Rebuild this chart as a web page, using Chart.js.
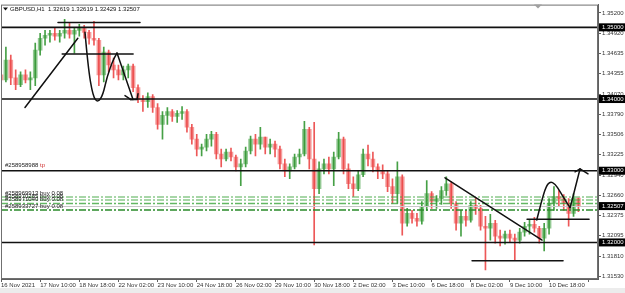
<!DOCTYPE html>
<html>
<head>
<meta charset="utf-8">
<script src="https://cdn.jsdelivr.net/npm/chart.js@4.4.0/dist/chart.umd.min.js"></script>
<style>
  html, body { margin: 0; padding: 0; background: #fff; }
  #wrap { width: 625px; height: 293px; }
</style>
</head>
<body>
<div id="wrap"><canvas id="chart" width="625" height="293"></canvas></div>
<script>
// GBPUSD, candles (4h steps)
const symbol = 'GBPUSD,H1';
const firstOpen = 1.34337;
const highs = [
  1.34406, 1.34723, 1.34613, 1.34406, 1.34378, 1.34406, 1.34378, 1.34779, 1.34917, 1.34958,
  1.34958, 1.34986, 1.34958, 1.35110, 1.35068, 1.34986, 1.35041, 1.35027, 1.34958, 1.35082,
  1.34848, 1.34723, 1.34682, 1.34572, 1.34475, 1.34461, 1.34489, 1.34489, 1.34199, 1.34047,
  1.34088, 1.34061, 1.33937, 1.33826, 1.33882, 1.33854, 1.33840, 1.33895, 1.33854, 1.33647,
  1.33509, 1.33371, 1.33509, 1.33551, 1.33537, 1.33302, 1.33302, 1.33316, 1.33220, 1.33164,
  1.33330, 1.33482, 1.33509, 1.33606, 1.33468, 1.33440, 1.33413, 1.33344, 1.33164, 1.33095,
  1.33233, 1.33302, 1.33689, 1.33606, 1.33675, 1.33123, 1.33164, 1.33192, 1.33261, 1.33537,
  1.33468, 1.33095, 1.32916, 1.32999, 1.33302, 1.33357, 1.33261, 1.33095, 1.33082, 1.32999,
  1.32888, 1.33123, 1.32944, 1.32474, 1.32447, 1.32405, 1.32571, 1.32861, 1.32709, 1.32654,
  1.32778, 1.32916, 1.32847, 1.32571, 1.32447, 1.32447, 1.32571, 1.32626, 1.32516, 1.32364,
  1.32392, 1.32309, 1.32171, 1.32157, 1.32171, 1.32116, 1.32198, 1.32281, 1.32309, 1.32350,
  1.32226, 1.32267, 1.32612, 1.32778, 1.32723, 1.32668, 1.32612, 1.32681, 1.32619
];
const lows = [
  1.34199, 1.34240, 1.34199, 1.34130, 1.34171, 1.34226, 1.34130, 1.34185, 1.34613, 1.34751,
  1.34792, 1.34820, 1.34792, 1.34848, 1.34848, 1.34641, 1.34875, 1.34848, 1.34765, 1.34751,
  1.34185, 1.34240, 1.34378, 1.34296, 1.34268, 1.34268, 1.34296, 1.34102, 1.33950, 1.33826,
  1.33882, 1.33813, 1.33578, 1.33440, 1.33647, 1.33689, 1.33675, 1.33716, 1.33537, 1.33371,
  1.33206, 1.33206, 1.33275, 1.33344, 1.33164, 1.33054, 1.33137, 1.33137, 1.32999, 1.32792,
  1.33054, 1.33233, 1.33206, 1.33302, 1.33233, 1.33233, 1.33192, 1.33026, 1.32916, 1.32888,
  1.33026, 1.33095, 1.33206, 1.33026, 1.31964, 1.32681, 1.32957, 1.32957, 1.32792, 1.33164,
  1.32957, 1.32750, 1.32640, 1.32723, 1.32916, 1.33068, 1.32985, 1.32888, 1.32888, 1.32709,
  1.32543, 1.32543, 1.32102, 1.32226, 1.32267, 1.32226, 1.32254, 1.32447, 1.32474, 1.32474,
  1.32530, 1.32654, 1.32474, 1.32171, 1.32088, 1.32226, 1.32281, 1.32392, 1.32171, 1.31618,
  1.32033, 1.31991, 1.31950, 1.31977, 1.32005, 1.31756, 1.31991, 1.32088, 1.32116, 1.32143,
  1.31991, 1.31881, 1.32116, 1.32447, 1.32502, 1.32447, 1.32226, 1.32364, 1.32429
];
const closes = [
  1.34268, 1.34544, 1.34296, 1.34199, 1.34337, 1.34268, 1.34296, 1.34682, 1.34848, 1.34889,
  1.34917, 1.34875, 1.34917, 1.34958, 1.34903, 1.34958, 1.34986, 1.34930, 1.34848, 1.34820,
  1.34337, 1.34654, 1.34475, 1.34406, 1.34337, 1.34406, 1.34461, 1.34158, 1.33992, 1.33964,
  1.34033, 1.33882, 1.33647, 1.33772, 1.33826, 1.33758, 1.33799, 1.33826, 1.33606, 1.33440,
  1.33302, 1.33330, 1.33440, 1.33509, 1.33233, 1.33164, 1.33261, 1.33192, 1.33054, 1.33095,
  1.33275, 1.33440, 1.33371, 1.33468, 1.33330, 1.33371, 1.33302, 1.33095, 1.32999, 1.33054,
  1.33192, 1.33233, 1.33578, 1.33164, 1.32750, 1.33026, 1.33095, 1.33026, 1.33192, 1.33440,
  1.33026, 1.32819, 1.32750, 1.32944, 1.33233, 1.33164, 1.33054, 1.32999, 1.32957, 1.32778,
  1.32681, 1.32916, 1.32267, 1.32405, 1.32336, 1.32295, 1.32502, 1.32681, 1.32571, 1.32612,
  1.32723, 1.32819, 1.32543, 1.32267, 1.32364, 1.32309, 1.32516, 1.32474, 1.32226, 1.32198,
  1.32267, 1.32088, 1.32060, 1.32116, 1.32060, 1.32033, 1.32143, 1.32226, 1.32254, 1.32198,
  1.32060, 1.32198, 1.32543, 1.32640, 1.32612, 1.32543, 1.32405, 1.32619, 1.32507
];
const opens = [firstOpen, ...closes.slice(0, -1)];

const xLabels = ['16 Nov 2021', '17 Nov 10:00', '18 Nov 18:00', '22 Nov 02:00', '23 Nov 10:00',
  '24 Nov 18:00', '26 Nov 02:00', '29 Nov 10:00', '30 Nov 18:00', '2 Dec 02:00', '3 Dec 10:00',
  '6 Dec 18:00', '8 Dec 02:00', '9 Dec 10:00', '10 Dec 18:00'];
const yTicks = [1.35200, 1.34920, 1.34635, 1.34355, 1.34070, 1.33790, 1.33506, 1.33225,
  1.32940, 1.32660, 1.32375, 1.32095, 1.31810, 1.31530];
const yMin = 1.31490, yMax = 1.35317;

// horizontal levels, open orders and the user's drawings (index, price)
const levels = [1.35000, 1.34000, 1.33000, 1.32000];
const orderPrices = [1.32633, 1.32592, 1.32544, 1.32454];
const orderColors = ['rgba(60,165,60,0.6)', 'rgba(60,165,60,0.6)', 'rgba(60,165,60,0.8)', '#2a8a2a'];
const orderTexts = ['#258969913 buy 0.08', '#258970285 buy 0.08', '#258971040 buy 0.08', '#258933727 buy 0.08'];
const tpText = '#258958988';
const straightLines = [
  [[4.9, 1.33882], [15.7, 1.34848]],
  [[11.65, 1.35068], [28.4, 1.35068]],
  [[12.5, 1.34627], [27.0, 1.34627]],
  [[23.71, 1.34641], [26.98, 1.33992]],
  [[25.34, 1.34047], [26.57, 1.33992]],
  [[26.4, 1.33992], [27.79, 1.33992], [28.0, 1.34075]],
  [[90.74, 1.32902], [110.57, 1.32033]],
  [[96.26, 1.31743], [114.86, 1.31743]],
  [[107.5, 1.32323], [120.17, 1.32323]],
  [[116.29, 1.32484], [116.96, 1.32658], [117.66, 1.32847], [118.33, 1.33026]],
  [[117.31, 1.32985], [118.33, 1.33026], [119.96, 1.32957]]
];
const curves = [
  [[17.17, 1.34930], [17.78, 1.34447], [18.8, 1.34033], [19.82, 1.33950], [20.85, 1.34061],
   [21.66, 1.34310], [22.89, 1.34544], [23.71, 1.34641]],
  [[109.48, 1.32313], [110.5, 1.32589], [111.38, 1.32778], [112.2, 1.32851], [113.22, 1.32819],
   [114.24, 1.32709], [115.61, 1.32557], [116.29, 1.32484]]
];

const labels = [...Array(highs.length + 4).keys()];
const up = opens.map((o, i) => closes[i] >= o);
const bodyColors = up.map(u => u ? 'rgba(75,165,75,0.6)' : 'rgba(238,90,90,0.6)');
const wickColors = up.map(u => u ? 'rgba(50,150,50,0.9)' : 'rgba(235,70,70,0.9)');
const FONT = '6px "Liberation Sans"';

const overlay = {
  id: 'overlay',
  beforeDraw(chart) {
    const c = chart.ctx;
    c.save();
    c.fillStyle = '#fff';
    c.fillRect(0, 0, chart.width, chart.height);
    c.fillStyle = '#ececec';
    c.fillRect(0, 288, chart.width, 5);
    c.restore();
  },
  afterDatasetsDraw(chart) {
    const { ctx: c, chartArea: a, scales: { x, y } } = chart;
    const pt = p => [x.getPixelForValue(p[0]), y.getPixelForValue(p[1])];
    c.save();
    c.beginPath();
    c.rect(a.left, a.top, a.right - a.left, a.bottom - a.top);
    c.clip();

    orderPrices.forEach((v, k) => {
      const yy = y.getPixelForValue(v);
      c.strokeStyle = orderColors[k];
      c.lineWidth = 1.5;
      c.setLineDash([7, 2, 2, 2]);
      c.beginPath(); c.moveTo(a.left, yy); c.lineTo(a.right, yy); c.stroke();
    });
    c.setLineDash([]);

    // bid line
    const by = Math.round(y.getPixelForValue(closes[closes.length - 1])) + 0.5;
    c.strokeStyle = '#c8c8c8';
    c.lineWidth = 1;
    c.beginPath(); c.moveTo(a.left, by); c.lineTo(a.right, by); c.stroke();

    c.strokeStyle = '#111';
    c.lineWidth = 1.6;
    levels.forEach(v => {
      const yy = y.getPixelForValue(v);
      c.beginPath(); c.moveTo(a.left, yy); c.lineTo(a.right, yy); c.stroke();
    });

    c.lineWidth = 1.5;
    c.lineJoin = 'round';
    c.lineCap = 'round';
    straightLines.forEach(line => {
      const p = line.map(pt);
      c.beginPath();
      c.moveTo(p[0][0], p[0][1]);
      p.slice(1).forEach(q => c.lineTo(q[0], q[1]));
      c.stroke();
    });
    curves.forEach(line => {
      const p = line.map(pt);
      c.beginPath();
      c.moveTo(p[0][0], p[0][1]);
      for (let k = 1; k < p.length - 1; k++) {
        c.quadraticCurveTo(p[k][0], p[k][1], (p[k][0] + p[k + 1][0]) / 2, (p[k][1] + p[k + 1][1]) / 2);
      }
      c.lineTo(p[p.length - 1][0], p[p.length - 1][1]);
      c.stroke();
    });
    c.restore();
  },
  afterDraw(chart) {
    const { ctx: c, chartArea: a, scales: { y } } = chart;
    c.save();
    c.font = FONT;
    c.textBaseline = 'middle';

    // frame
    c.strokeStyle = '#707070';
    c.lineWidth = 1;
    c.strokeRect(a.left + 0.5, a.top + 0.5, a.right - a.left - 1, a.bottom - a.top - 1);

    // price boxes on the axis
    [...levels, closes[closes.length - 1]].forEach(v => {
      const yy = y.getPixelForValue(v);
      c.fillStyle = '#000';
      c.fillRect(a.right + 1, yy - 4, chart.width - a.right, 8);
      c.fillStyle = '#fff';
      c.fillText(v.toFixed(5), a.right + 4, yy);
    });

    // order labels
    c.fillStyle = '#222';
    c.textBaseline = 'bottom';
    orderTexts.forEach((t, k) => c.fillText(t, a.left + 4, y.getPixelForValue(orderPrices[k]) - 1));
    const ty = y.getPixelForValue(levels[2]) - 2;
    c.fillText(tpText, a.left + 4, ty);
    c.fillStyle = '#d03030';
    c.fillText('tp', a.left + 4 + c.measureText(tpText + ' ').width, ty);

    // title
    const n = closes.length - 1;
    c.fillStyle = '#111';
    c.textBaseline = 'middle';
    c.fillText(`${symbol}  ${opens[n].toFixed(5)} ${highs[n].toFixed(5)} ${lows[n].toFixed(5)} ${closes[n].toFixed(5)}`, a.left + 9, a.top + 5);
    c.beginPath();
    c.moveTo(a.left + 2, a.top + 3); c.lineTo(a.left + 7, a.top + 3); c.lineTo(a.left + 4.5, a.top + 6);
    c.closePath(); c.fill();

    // shift marker
    c.fillStyle = '#a0a0a0';
    c.beginPath();
    c.moveTo(534, a.top); c.lineTo(542, a.top); c.lineTo(538, a.top + 4);
    c.closePath(); c.fill();
    c.restore();
  }
};

new Chart(document.getElementById('chart'), {
  type: 'bar',
  data: {
    labels: labels,
    datasets: [
      {
        data: highs.map((h, i) => [lows[i], h]),
        backgroundColor: wickColors,
        barThickness: 1,
        grouped: false,
        order: 1
      },
      {
        data: opens.map((o, i) => [o, closes[i]]),
        backgroundColor: bodyColors,
        barThickness: 4,
        minBarLength: 1,
        grouped: false,
        order: 2
      }
    ]
  },
  options: {
    responsive: false,
    animation: false,
    devicePixelRatio: 1,
    layout: { padding: { left: 1, top: 4, right: 0, bottom: 0 } },
    plugins: { legend: { display: false }, tooltip: { enabled: false } },
    scales: {
      x: {
        type: 'category',
        offset: false,
        afterFit: s => { s.height = 14; },
        grid: {
          drawOnChartArea: false,
          offset: false,
          tickLength: 3,
          color: ctx => ctx.index % 8 === 0 ? '#606060' : 'rgba(0,0,0,0)'
        },
        border: { display: true, color: '#606060' },
        ticks: {
          autoSkip: false,
          maxRotation: 0,
          align: 'start',
          padding: 0,
          color: '#333',
          font: { family: 'Liberation Sans', size: 6 },
          callback: (v, i) => (i % 8 === 0 && xLabels[i / 8]) ? xLabels[i / 8] : ''
        }
      },
      y: {
        position: 'right',
        min: yMin,
        max: yMax,
        afterFit: s => { s.width = 27; },
        afterBuildTicks: s => { s.ticks = yTicks.map(v => ({ value: v })); },
        grid: { drawOnChartArea: false, tickLength: 3, color: '#606060' },
        border: { display: true, color: '#606060' },
        ticks: {
          autoSkip: false,
          padding: 1,
          color: '#333',
          font: { family: 'Liberation Sans', size: 6 },
          callback: v => v.toFixed(5)
        }
      }
    }
  },
  plugins: [overlay]
});
</script>
</body>
</html>
